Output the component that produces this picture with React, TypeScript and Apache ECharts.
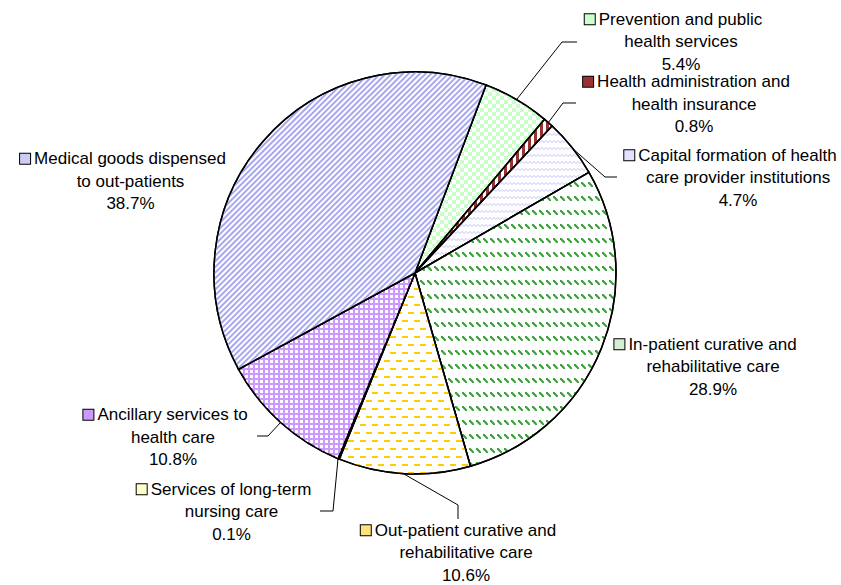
import React, { useEffect, useRef } from 'react';
import * as echarts from 'echarts';

// ---- data ----
const categories = [
  'Prevention and public health services',
  'Health administration and health insurance',
  'Capital formation of health care provider institutions',
  'In-patient curative and rehabilitative care',
  'Out-patient curative and rehabilitative care',
  'Services of long-term nursing care',
  'Ancillary services to health care',
  'Medical goods dispensed to out-patients',
];
const labelLines = [
  ['Prevention and public', 'health services'],
  ['Health administration and', 'health insurance'],
  ['Capital formation of health', 'care provider institutions'],
  ['In-patient curative and', 'rehabilitative care'],
  ['Out-patient curative and', 'rehabilitative care'],
  ['Services of long-term', 'nursing care'],
  ['Ancillary services to', 'health care'],
  ['Medical goods dispensed', 'to out-patients'],
];
const shares = [5.4, 0.8, 4.7, 28.9, 10.6, 0.1, 10.8, 38.7];

// ---- styles ----
const baseColors = ['#ffffff', '#ffffff', '#ffffff', '#ffffff', '#ffffff', '#ffffcc', '#cc99ff', '#ffffff'];
const iconColors = ['#ccffcc', '#993333', '#e2e2ff', '#d4efd4', '#ffe27a', '#ffffcc', '#cc99ff', '#ccccf6'];
const decals: any[] = [
  { symbol: 'rect', symbolSize: 1, color: '#c8ffc8', dashArrayX: [[4, 4], [0, 4, 4, 0]], dashArrayY: [4, 0] },
  { symbol: 'rect', symbolSize: 1, color: '#993333', dashArrayX: [3, 3], dashArrayY: [4, 0] },
  {
    symbol: 'path://M0,2 L2,0 L4,2 L6,0 L8,2 L8,3 L6,1 L4,3 L2,1 L0,3 Z',
    symbolSize: 1, symbolKeepAspect: false, color: '#c4c4fa', dashArrayX: [8, 0], dashArrayY: [3, 4],
  },
  {
    symbol: 'path://M0,0 L1.6,0 L5,3.4 L5,5 L3.4,5 L0,1.6 Z',
    symbolSize: 1, symbolKeepAspect: false, color: '#3ca03c', dashArrayX: [5, 2], dashArrayY: [5, 9],
  },
  { symbol: 'rect', symbolSize: 1, color: '#ffcc00', dashArrayX: [[6, 6], [0, 6, 6, 0]], dashArrayY: [2, 6] },
  'none',
  { symbol: 'rect', symbolSize: 1, color: '#ffffff', dashArrayX: [3, 2], dashArrayY: [3, 2] },
  { symbol: 'rect', symbolSize: 1, color: '#a8a8f0', dashArrayX: [8, 0], dashArrayY: [2, 2], rotation: -Math.PI / 4 },
];
// label anchor: [centre x, top y]
const labelPos = [
  [681, 8], [694, 70.5], [738, 144], [713, 333], [466, 519], [231.5, 478], [173, 403.5], [130.5, 147.5],
];
const leaderPts: (number[][] | null)[] = [
  [[517, 99], [562, 42], [577, 42]],
  [[548, 123], [563, 103], [576, 103]],
  [[572, 148], [605, 177], [617, 177]],
  null,
  [[404, 474], [458, 505], [458, 519]],
  [[338, 459], [333, 511], [320, 511]],
  [[281, 422], [268, 436], [257, 436]],
  null,
];

const FONT = '"Liberation Sans", Arial, sans-serif';
const FS = 17;
const LH = 22.5;

export default function App() {
  const ref = useRef<HTMLDivElement>(null);
  useEffect(() => {
    if (!ref.current) return;
    const chart = echarts.init(ref.current, undefined, { renderer: 'svg' });
    const rich: any = {
      t: { fontFamily: FONT, fontSize: FS, lineHeight: LH, color: '#000', align: 'center' },
      gap: { width: 4, lineHeight: LH, align: 'center' },
      pad: { width: 15, lineHeight: LH, align: 'center' },
    };
    iconColors.forEach((c, i) => {
      rich['icon' + i] = {
        width: 10, height: 10, lineHeight: LH, backgroundColor: c, borderColor: '#000', borderWidth: 1, align: 'center',
      };
    });
    const data = categories.map((name, i) => ({
      name,
      value: shares[i],
      itemStyle: { color: baseColors[i], decal: decals[i] },
      labelLine: { show: leaderPts[i] != null },
    }));
    chart.setOption({
      animation: false,
      backgroundColor: '#ffffff',
      series: [
        {
          type: 'pie',
          center: [415, 273],
          radius: 201,
          startAngle: 69.3,
          clockwise: true,
          avoidLabelOverlap: false,
          silent: true,
          emphasis: { disabled: true },
          itemStyle: { borderColor: '#000', borderWidth: 1.5 },
          data,
          label: {
            show: true,
            position: 'outside',
            align: 'center',
            fontFamily: FONT,
            fontSize: FS,
            lineHeight: LH,
            color: '#000',
            rich,
            formatter: (p: any) => {
              const i = p.dataIndex;
              const ls = labelLines[i];
              const rest = ls.slice(1).map((l) => `{t|${l}}`).join('\n');
              return `{icon${i}|}{gap|}{t|${ls[0]}}{pad|}\n${rest}\n{t|${shares[i].toFixed(1)}%}`;
            },
          },
          labelLine: { show: true, smooth: false, lineStyle: { color: '#000', width: 1 } },
          labelLayout: (params: any) => {
            const i = params.dataIndex;
            const o: any = { x: labelPos[i][0], y: labelPos[i][1], align: 'center', verticalAlign: 'top' };
            if (leaderPts[i]) o.labelLinePoints = leaderPts[i];
            return o;
          },
        },
      ],
    });
    return () => chart.dispose();
  }, []);
  return (
    <div
      ref={ref}
      style={{ position: 'fixed', left: 0, top: 0, width: 841, height: 585, background: '#fff' }}
    />
  );
}
